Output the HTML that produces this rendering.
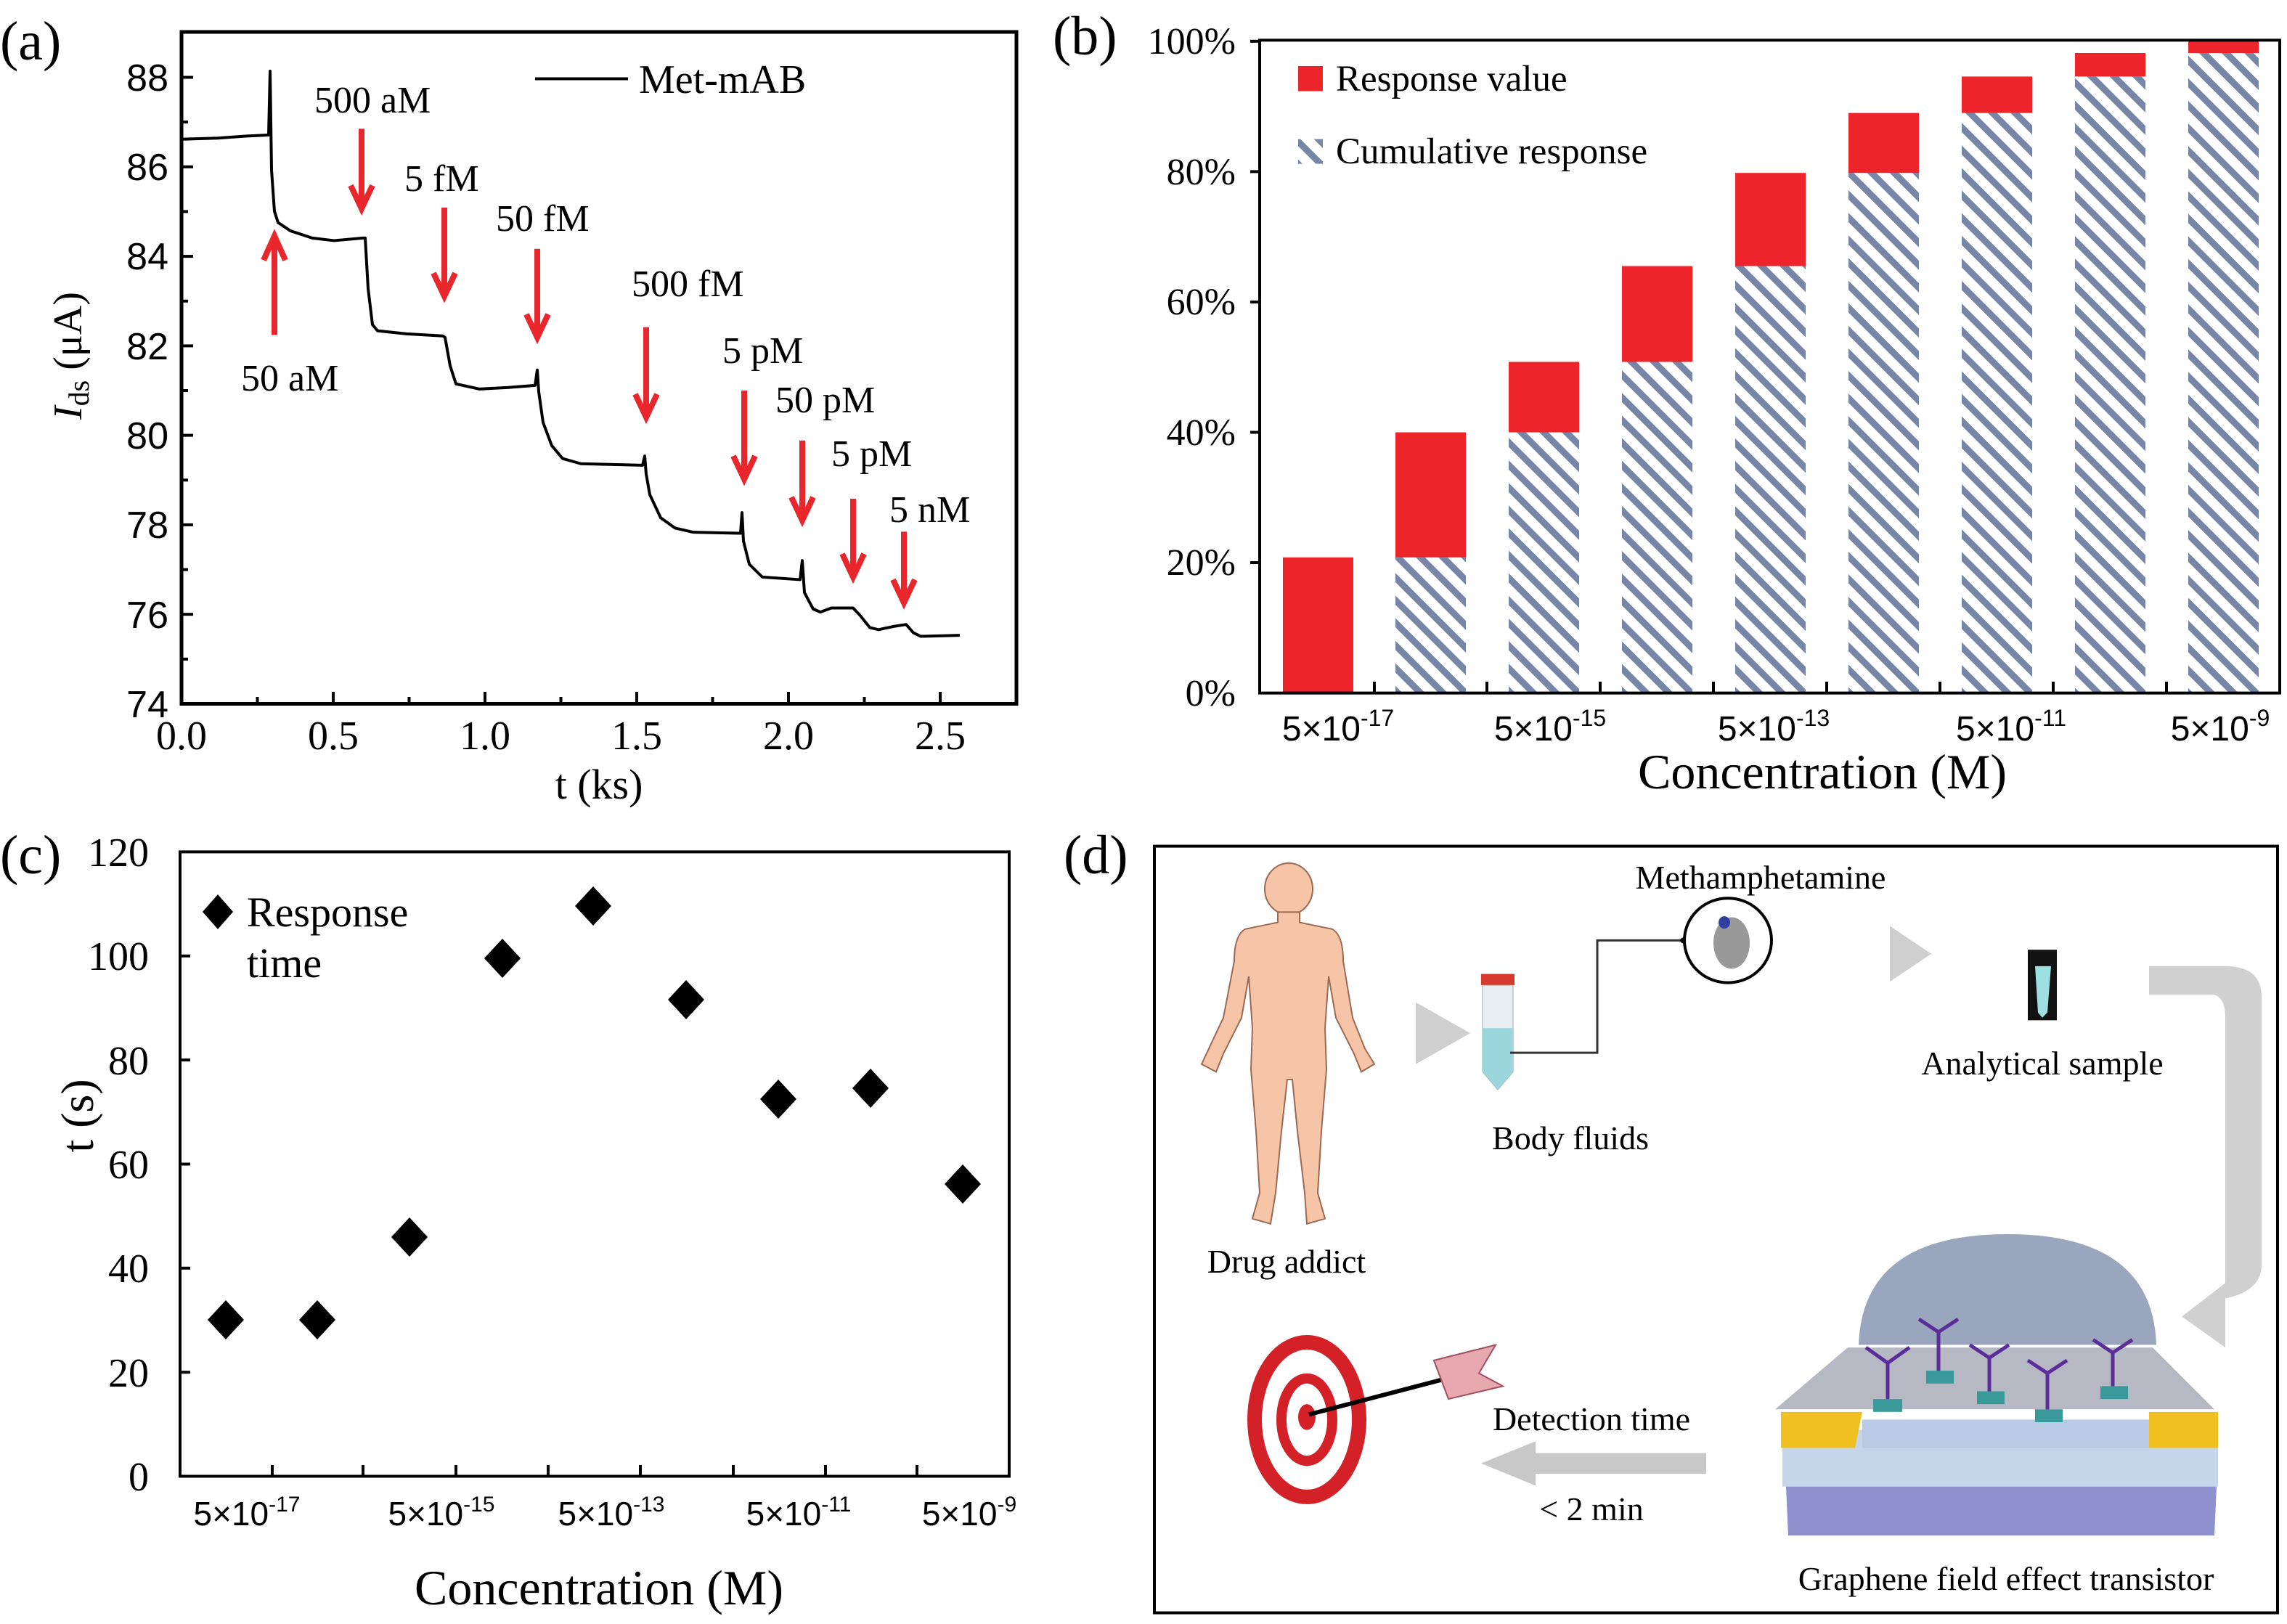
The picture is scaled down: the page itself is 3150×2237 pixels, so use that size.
<!DOCTYPE html>
<html><head><meta charset="utf-8"><style>
html,body{margin:0;padding:0;background:#fff}
svg{display:block}
.s{font-family:"Liberation Sans",sans-serif}
.r{font-family:"Liberation Serif",serif}
</style></head><body>
<svg width="3150" height="2237" viewBox="0 0 3150 2237" xmlns="http://www.w3.org/2000/svg">
<defs>
<pattern id="h" patternUnits="userSpaceOnUse" width="22" height="22" patternTransform="rotate(-45)">
<rect width="22" height="22" fill="#fff"/><rect width="9" height="22" fill="#7786a6"/>
</pattern>
</defs>
<rect width="3150" height="2237" fill="#fff"/>

<!-- ============ Panel (a) ============ -->
<text class="r" x="0" y="82" font-size="76">(a)</text>
<rect x="250" y="44" width="1150" height="925.5" fill="none" stroke="#000" stroke-width="5"/>
<g stroke="#000" stroke-width="4">
<line x1="250" y1="106.5" x2="266" y2="106.5"/><line x1="250" y1="229.8" x2="266" y2="229.8"/>
<line x1="250" y1="353.1" x2="266" y2="353.1"/><line x1="250" y1="476.4" x2="266" y2="476.4"/>
<line x1="250" y1="599.6" x2="266" y2="599.6"/><line x1="250" y1="722.9" x2="266" y2="722.9"/>
<line x1="250" y1="846.2" x2="266" y2="846.2"/>
<line x1="250" y1="168.1" x2="259" y2="168.1"/><line x1="250" y1="291.4" x2="259" y2="291.4"/>
<line x1="250" y1="414.7" x2="259" y2="414.7"/><line x1="250" y1="538" x2="259" y2="538"/>
<line x1="250" y1="661.3" x2="259" y2="661.3"/><line x1="250" y1="784.6" x2="259" y2="784.6"/>
<line x1="250" y1="907.9" x2="259" y2="907.9"/>
<line x1="459" y1="969.5" x2="459" y2="953"/><line x1="668" y1="969.5" x2="668" y2="953"/>
<line x1="877" y1="969.5" x2="877" y2="953"/><line x1="1086" y1="969.5" x2="1086" y2="953"/>
<line x1="1295" y1="969.5" x2="1295" y2="953"/>
<line x1="354.5" y1="969.5" x2="354.5" y2="960"/><line x1="563.5" y1="969.5" x2="563.5" y2="960"/>
<line x1="772.5" y1="969.5" x2="772.5" y2="960"/><line x1="981.5" y1="969.5" x2="981.5" y2="960"/>
<line x1="1190.5" y1="969.5" x2="1190.5" y2="960"/>
</g>
<g class="s" font-size="52" text-anchor="end">
<text x="232" y="125">88</text><text x="232" y="248">86</text><text x="232" y="371">84</text>
<text x="232" y="495">82</text><text x="232" y="618">80</text><text x="232" y="741">78</text>
<text x="232" y="865">76</text><text x="232" y="988">74</text>
</g>
<g class="r" font-size="56" text-anchor="middle">
<text x="250" y="1032">0.0</text><text x="459" y="1032">0.5</text><text x="668" y="1032">1.0</text>
<text x="877" y="1032">1.5</text><text x="1086" y="1032">2.0</text><text x="1295" y="1032">2.5</text>
</g>
<text class="r" x="825" y="1100" font-size="58" text-anchor="middle">t (ks)</text>
<text class="r" transform="translate(112,490) rotate(-90)" font-size="56" text-anchor="middle"><tspan font-style="italic">I</tspan><tspan font-size="40" dy="10">ds</tspan><tspan dy="-10"> (μA)</tspan></text>
<line x1="737" y1="108.5" x2="865" y2="108.5" stroke="#000" stroke-width="4"/>
<text class="r" x="880" y="128" font-size="56">Met-mAB</text>

<g transform="scale(1,0.70972)">
<path fill="none" stroke="#000" stroke-width="4" vector-effect="non-scaling-stroke" stroke-linejoin="round"
d="M252,270 L300,268 L340,264 L370,262 L372,138 L374,330 L378,410 L383,432 L400,448 L430,462 L460,467 L500,462 L503,462 L507,560 L513,630 L520,642 L560,648 L610,652 L613,655 L620,710 L628,745 L660,755 L700,752 L737,748 L740,718 L742,760 L748,820 L760,865 L775,890 L800,900 L885,903 L888,885 L890,920 L895,960 L910,1005 L930,1025 L955,1033 L1020,1035 L1022,995 L1024,1050 L1032,1095 L1050,1120 L1102,1125 L1105,1088 L1108,1150 L1120,1182 L1130,1188 L1145,1180 L1175,1180 L1185,1195 L1198,1218 L1210,1222 L1230,1216 L1248,1212 L1258,1228 L1268,1235 L1322,1233"/>
<g fill="none" stroke="#e8262b" stroke-width="8" vector-effect="non-scaling-stroke">
<path vector-effect="non-scaling-stroke" d="M378,650 L378,458 M363,505 L378,458 L393,505"/>
<path vector-effect="non-scaling-stroke" d="M498,250 L498,405 M483,360 L498,405 L513,360"/>
<path vector-effect="non-scaling-stroke" d="M612,403 L612,575 M597,530 L612,575 L627,530"/>
<path vector-effect="non-scaling-stroke" d="M740,483 L740,655 M725,610 L740,655 L755,610"/>
<path vector-effect="non-scaling-stroke" d="M890,635 L890,810 M875,765 L890,810 L905,765"/>
<path vector-effect="non-scaling-stroke" d="M1025,758 L1025,930 M1010,885 L1025,930 L1040,885"/>
<path vector-effect="non-scaling-stroke" d="M1105,855 L1105,1010 M1090,965 L1105,1010 L1120,965"/>
<path vector-effect="non-scaling-stroke" d="M1175,968 L1175,1120 M1160,1075 L1175,1120 L1190,1075"/>
<path vector-effect="non-scaling-stroke" d="M1245,1032 L1245,1170 M1230,1125 L1245,1170 L1260,1125"/>
</g>
</g>
<g class="r" font-size="52">
<text x="433" y="155">500 aM</text><text x="557" y="263">5 fM</text><text x="683" y="318">50 fM</text>
<text x="870" y="408">500 fM</text><text x="995" y="500">5 pM</text><text x="1068" y="568">50 pM</text>
<text x="1145" y="642">5 pM</text><text x="1225" y="719">5 nM</text><text x="332" y="538">50 aM</text>
</g>

<!-- ============ Panel (b) ============ -->
<text class="r" x="1450" y="75" font-size="76">(b)</text>
<g>
<rect x="1767" y="767.8" width="97" height="186.8" fill="#ed2429"/>
<rect x="1922" y="767.8" width="97" height="186.8" fill="url(#h)"/><rect x="1922" y="595.5" width="97" height="172.3" fill="#ed2429"/>
<rect x="2078" y="595.5" width="97" height="359.1" fill="url(#h)"/><rect x="2078" y="498.5" width="97" height="97" fill="#ed2429"/>
<rect x="2234" y="498.5" width="97" height="456.1" fill="url(#h)"/><rect x="2234" y="366.5" width="97" height="132" fill="#ed2429"/>
<rect x="2390" y="366.5" width="97" height="588.1" fill="url(#h)"/><rect x="2390" y="238.2" width="97" height="128.3" fill="#ed2429"/>
<rect x="2546" y="238.2" width="97" height="716.4" fill="url(#h)"/><rect x="2546" y="155.6" width="97" height="82.6" fill="#ed2429"/>
<rect x="2702" y="155.6" width="97" height="799" fill="url(#h)"/><rect x="2702" y="105.4" width="97" height="50.2" fill="#ed2429"/>
<rect x="2858" y="105.4" width="97" height="849.2" fill="url(#h)"/><rect x="2858" y="73" width="97" height="32.4" fill="#ed2429"/>
<rect x="3014" y="73" width="97" height="881.6" fill="url(#h)"/><rect x="3014" y="56.8" width="97" height="16.2" fill="#ed2429"/>
</g>
<path d="M1735,55.4 L3140,55.4 L3140,954.6 L1735,954.6 Z" fill="none" stroke="#000" stroke-width="4"/>
<g stroke="#000" stroke-width="4">
<line x1="1722" y1="56.8" x2="1735" y2="56.8"/><line x1="1722" y1="236.4" x2="1735" y2="236.4"/>
<line x1="1722" y1="416" x2="1735" y2="416"/><line x1="1722" y1="595.5" x2="1735" y2="595.5"/>
<line x1="1722" y1="775" x2="1735" y2="775"/>
<line x1="1893" y1="954.6" x2="1893" y2="939"/><line x1="2048" y1="954.6" x2="2048" y2="939"/>
<line x1="2204" y1="954.6" x2="2204" y2="939"/><line x1="2360" y1="954.6" x2="2360" y2="939"/>
<line x1="2516" y1="954.6" x2="2516" y2="939"/><line x1="2672" y1="954.6" x2="2672" y2="939"/>
<line x1="2828" y1="954.6" x2="2828" y2="939"/><line x1="2984" y1="954.6" x2="2984" y2="939"/>
</g>
<g class="r" font-size="52" text-anchor="end">
<text x="1702" y="74">100%</text><text x="1702" y="254">80%</text><text x="1702" y="433">60%</text>
<text x="1702" y="613">40%</text><text x="1702" y="792">20%</text><text x="1702" y="972">0%</text>
</g>
<g class="s" font-size="48" text-anchor="middle">
<text x="1843" y="1020">5×10<tspan font-size="32" dy="-20">-17</tspan></text>
<text x="2135" y="1020">5×10<tspan font-size="32" dy="-20">-15</tspan></text>
<text x="2443" y="1020">5×10<tspan font-size="32" dy="-20">-13</tspan></text>
<text x="2770" y="1020">5×10<tspan font-size="32" dy="-20">-11</tspan></text>
<text x="3058" y="1020">5×10<tspan font-size="32" dy="-20">-9</tspan></text>
</g>
<text class="r" x="2510" y="1086" font-size="68" text-anchor="middle">Concentration (M)</text>
<rect x="1788" y="91" width="34" height="34.6" fill="#ed2429"/>
<text class="r" x="1840" y="125" font-size="51">Response value</text>
<rect x="1788" y="191.6" width="34" height="34" fill="url(#h)"/>
<text class="r" x="1840" y="225" font-size="51">Cumulative response</text>

<!-- ============ Panel (c) ============ -->
<text class="r" x="0" y="1203" font-size="76">(c)</text>
<rect x="248" y="1173.4" width="1142" height="860.1" fill="none" stroke="#000" stroke-width="4"/>
<g stroke="#000" stroke-width="4">
<line x1="375" y1="2033.5" x2="375" y2="2018"/><line x1="500" y1="2033.5" x2="500" y2="2018"/>
<line x1="628" y1="2033.5" x2="628" y2="2018"/><line x1="755" y1="2033.5" x2="755" y2="2018"/>
<line x1="882" y1="2033.5" x2="882" y2="2018"/><line x1="1010" y1="2033.5" x2="1010" y2="2018"/>
<line x1="1137" y1="2033.5" x2="1137" y2="2018"/><line x1="1263" y1="2033.5" x2="1263" y2="2018"/>
<line x1="248" y1="1890.2" x2="262" y2="1890.2"/><line x1="248" y1="1746.8" x2="262" y2="1746.8"/>
<line x1="248" y1="1603.5" x2="262" y2="1603.5"/><line x1="248" y1="1460.1" x2="262" y2="1460.1"/>
<line x1="248" y1="1316.8" x2="262" y2="1316.8"/>
</g>
<g class="r" font-size="56" text-anchor="end">
<text x="205" y="1193">120</text><text x="205" y="1336">100</text><text x="205" y="1480">80</text>
<text x="205" y="1623">60</text><text x="205" y="1766">40</text><text x="205" y="1910">20</text>
<text x="205" y="2053">0</text>
</g>
<g class="s" font-size="46" text-anchor="middle">
<text x="340" y="2101">5×10<tspan font-size="30" dy="-19">-17</tspan></text>
<text x="608" y="2101">5×10<tspan font-size="30" dy="-19">-15</tspan></text>
<text x="842" y="2101">5×10<tspan font-size="30" dy="-19">-13</tspan></text>
<text x="1100" y="2101">5×10<tspan font-size="30" dy="-19">-11</tspan></text>
<text x="1335" y="2101">5×10<tspan font-size="30" dy="-19">-9</tspan></text>
</g>
<text class="r" x="825" y="2210" font-size="68" text-anchor="middle">Concentration (M)</text>
<text class="r" transform="translate(128,1537) rotate(-90)" font-size="64" text-anchor="middle">t (s)</text>
<g fill="#000">
<path d="M311,1791 l25,27 l-25,27 l-25,-27 Z"/>
<path d="M437,1791 l25,27 l-25,27 l-25,-27 Z"/>
<path d="M564,1677 l25,27 l-25,27 l-25,-27 Z"/>
<path d="M692,1293 l25,27 l-25,27 l-25,-27 Z"/>
<path d="M817,1221 l25,27 l-25,27 l-25,-27 Z"/>
<path d="M945,1350 l25,27 l-25,27 l-25,-27 Z"/>
<path d="M1072,1487 l25,27 l-25,27 l-25,-27 Z"/>
<path d="M1199,1472 l25,27 l-25,27 l-25,-27 Z"/>
<path d="M1326,1604 l25,27 l-25,27 l-25,-27 Z"/>
<path d="M300,1232 l21,24 l-21,24 l-21,-24 Z"/>
</g>
<text class="r" x="340" y="1276" font-size="58">Response</text>
<text class="r" x="340" y="1346" font-size="58">time</text>

<!-- ============ Panel (d) ============ -->
<text class="r" x="1465" y="1203" font-size="76">(d)</text>
<rect x="1590" y="1165.6" width="1547" height="1056" fill="none" stroke="#000" stroke-width="4"/>
<g transform="translate(1575,1118) scale(1,0.70972)">
<!-- human -->
<ellipse cx="200" cy="150" rx="33" ry="50" fill="#f6c4a6" stroke="#9b6a55" stroke-width="2" vector-effect="non-scaling-stroke"/>
<path fill="#f6c4a6" stroke="#9b6a55" stroke-width="2" vector-effect="non-scaling-stroke" d="M185,195 L185,215 L140,228 Q125,240 125,290 L110,400 L90,460 L80,490 L100,505 L110,470 L135,400 L145,320 L150,420 L148,500 L155,620 L160,740 L150,790 L175,800 L182,740 L190,620 L198,520 L205,520 L212,620 L222,740 L225,800 L250,790 L240,740 L245,620 L252,500 L250,420 L255,320 L265,400 L290,470 L300,505 L318,490 L305,460 L288,400 L275,290 Q275,240 260,228 L215,215 L215,195 Z"/>
<!-- triangles -->
<path d="M375,370 L450,430 L375,490 Z" fill="#cfcfcf"/>
<path d="M1028,222 L1085,276 L1028,330 Z" fill="#cfcfcf"/>
<!-- tube -->
<rect x="465" y="315" width="46" height="22" fill="#d63a2f"/>
<path d="M467,337 L509,337 L509,505 L488,540 L467,505 Z" fill="#e9eef2" stroke="#9aa" stroke-width="1" vector-effect="non-scaling-stroke"/>
<path d="M467,420 L509,420 L509,505 L488,540 L467,505 Z" fill="#9bd6dc"/>
<path d="M505,468 L625,468 L625,250 L745,250" fill="none" stroke="#333" stroke-width="3" vector-effect="non-scaling-stroke"/>
<circle cx="745" cy="250" r="6" fill="#000"/>
<ellipse cx="805" cy="250" rx="60" ry="82" fill="#fff" stroke="#000" stroke-width="4" vector-effect="non-scaling-stroke"/>
<ellipse cx="810" cy="255" rx="25" ry="50" fill="#999"/>
<ellipse cx="800" cy="215" rx="8" ry="12" fill="#3140a0"/>
<!-- sample tube -->
<path d="M1218,268 L1258,268 L1258,405 L1218,405 Z" fill="#111"/>
<path d="M1228,300 L1250,300 L1245,390 L1238,400 L1232,390 Z" fill="#9ee0e2"/>
<!-- curved arrow -->
<path d="M1385,300 L1490,300 Q1540,300 1540,360 L1540,880 Q1540,930 1490,945 L1490,1040 L1430,980 L1490,915 L1490,880 L1490,400 Q1490,355 1470,355 L1385,355 Z" fill="#d0d0d0"/>
<!-- dome -->
<path d="M985,1035 Q990,820 1190,820 Q1390,820 1395,1035 Z" fill="#9aa6bd"/>
<!-- layers -->
<path d="M880,1200 L1480,1200 L1480,1310 L880,1310 Z" fill="#c6d6ea"/>
<path d="M885,1310 L1478,1310 L1475,1405 L888,1405 Z" fill="#8f91cf"/>
<path d="M878,1165 L990,1165 L980,1235 L878,1235 Z" fill="#f0c020"/>
<path d="M1385,1165 L1480,1165 L1480,1235 L1385,1235 Z" fill="#f0c020"/>
<path d="M990,1180 L1385,1180 L1385,1235 L990,1235 Z" fill="#b9cbe4"/>
<path d="M870,1160 L970,1040 L1390,1040 L1475,1160 Z" fill="#a9adb8" opacity="0.85"/>
<g stroke="#5a2d9a" stroke-width="5" fill="none" vector-effect="non-scaling-stroke">
<path vector-effect="non-scaling-stroke" d="M1025,1150 L1025,1070 L995,1040 M1025,1070 L1055,1040"/>
<path vector-effect="non-scaling-stroke" d="M1095,1090 L1095,1010 L1068,985 M1095,1010 L1122,985"/>
<path vector-effect="non-scaling-stroke" d="M1165,1130 L1165,1060 L1138,1035 M1165,1060 L1192,1035"/>
<path vector-effect="non-scaling-stroke" d="M1245,1165 L1245,1090 L1218,1065 M1245,1090 L1272,1065"/>
<path vector-effect="non-scaling-stroke" d="M1335,1120 L1335,1050 L1308,1025 M1335,1050 L1362,1025"/>
</g>
<g fill="#3a9a9a">
<rect x="1005" y="1140" width="40" height="25"/><rect x="1078" y="1085" width="38" height="25"/>
<rect x="1148" y="1125" width="38" height="25"/><rect x="1228" y="1160" width="38" height="25"/>
<rect x="1318" y="1115" width="38" height="25"/>
</g>
<!-- target -->
<ellipse cx="225" cy="1180" rx="72" ry="150" fill="none" stroke="#d42027" stroke-width="20" vector-effect="non-scaling-stroke"/>
<ellipse cx="225" cy="1180" rx="35" ry="80" fill="none" stroke="#d42027" stroke-width="14" vector-effect="non-scaling-stroke"/>
<ellipse cx="225" cy="1175" rx="12" ry="25" fill="#d42027"/>
<path d="M228,1170 L445,1090" stroke="#000" stroke-width="6" vector-effect="non-scaling-stroke"/>
<path d="M400,1065 L485,1035 L462,1090 L495,1115 L420,1140 Z" fill="#e8a8b0" stroke="#a05060" stroke-width="2" vector-effect="non-scaling-stroke"/>
<!-- left arrow -->
<path d="M775,1245 L540,1245 L540,1222 L465,1265 L540,1308 L540,1285 L775,1285 Z" fill="#c8c8c8"/>
</g>
<g class="r" font-size="46" text-anchor="middle">
<text x="1772" y="1753">Drug addict</text>
<text x="2425" y="1224">Methamphetamine</text>
<text x="2163" y="1583">Body fluids</text>
<text x="2813" y="1480">Analytical sample</text>
<text x="2192" y="1970">Detection time</text>
<text x="2192" y="2094">&lt; 2 min</text>
<text x="2763" y="2190">Graphene field effect transistor</text>
</g>
</svg>
</body></html>
